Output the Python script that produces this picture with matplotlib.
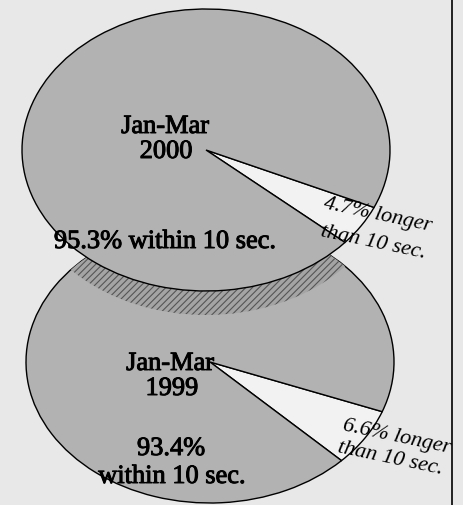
import numpy as np
import matplotlib.pyplot as plt
import matplotlib.patheffects as pe
from matplotlib.patches import Ellipse

# data
periods = ['Jan-Mar\n2000', 'Jan-Mar\n1999']
within_pct = [95.3, 93.4]
longer_pct = [4.7, 6.6]

# look
bg = '#e8e8e8'
pie_col = '#b2b2b2'
wedge_col = '#f2f2f2'
W, H = 463, 505
RX, RY = 184, 141          # ellipse radii in pixels
k = RX / RY                # y squash so a circle becomes the ellipse

def Y(yp):
    # pixel row (from top) -> data y
    return (H - yp) * k

centers = [(206, 150), (210, 362)]
zorders = [3, 1]

plt.rcParams['font.family'] = ['Liberation Serif', 'DejaVu Serif']
plt.rcParams['hatch.linewidth'] = 0.8

fig, ax = plt.subplots(figsize=(W / 100, H / 100), dpi=100)
fig.subplots_adjust(0, 0, 1, 1)
fig.patch.set_facecolor(bg)
ax.set_facecolor(bg)

for i in range(2):
    cx, cy = centers[i]
    small = longer_pct[i]
    ax.pie([small, within_pct[i]], center=(cx, Y(cy)), radius=RX,
           startangle=-32.5 - 360 * small / 100 / 2,
           colors=[wedge_col, pie_col],
           wedgeprops=dict(edgecolor='black', linewidth=1.0, zorder=zorders[i]))

# shadow band of the top pie, only on the lower pie
clip = Ellipse((centers[1][0], Y(centers[1][1])), 2 * RX, 2 * RX)
clip.set_transform(ax.transData)
band = Ellipse((centers[0][0], Y(centers[0][1] + 24)), 2 * RX, 2 * RX,
               facecolor='#a4a4a4', edgecolor='#555555', hatch='/////',
               linewidth=0, zorder=2)
ax.add_patch(band)
band.set_clip_path(clip)

ax.set_aspect('auto')
ax.set_xlim(0, W)
ax.set_ylim(0, H * k)
ax.axis('off')

# box border on the right
ax.plot([452, 452], [Y(0), Y(H)], color='black', lw=1.2, zorder=5)

fs = 19
bold = [pe.withStroke(linewidth=0.7, foreground='black')]
big = dict(ha='center', va='baseline', fontsize=fs, zorder=6, path_effects=bold)
side = dict(ha='left', va='baseline', fontsize=16, style='italic', rotation=-12,
            rotation_mode='anchor', zorder=6)

# top pie labels
l1, l2 = periods[0].split('\n')
ax.text(165, Y(133), l1, **big)
ax.text(166, Y(158), l2, **big)
ax.text(165, Y(248), f'{within_pct[0]}% within 10 sec.', **big)
ax.text(323, Y(208), f'{longer_pct[0]}% longer', **side)
ax.text(320, Y(236), 'than 10 sec.', **side)

# bottom pie labels
l1, l2 = periods[1].split('\n')
ax.text(170, Y(370), l1, **big)
ax.text(172, Y(395), l2, **big)
ax.text(171, Y(455), f'{within_pct[1]}%', **big)
ax.text(172, Y(483), 'within 10 sec.', **big)
ax.text(342, Y(430), f'{longer_pct[1]}% longer', **side)
ax.text(337, Y(452), 'than 10 sec.', **side)

plt.savefig('out.png', dpi=100, facecolor=bg)
